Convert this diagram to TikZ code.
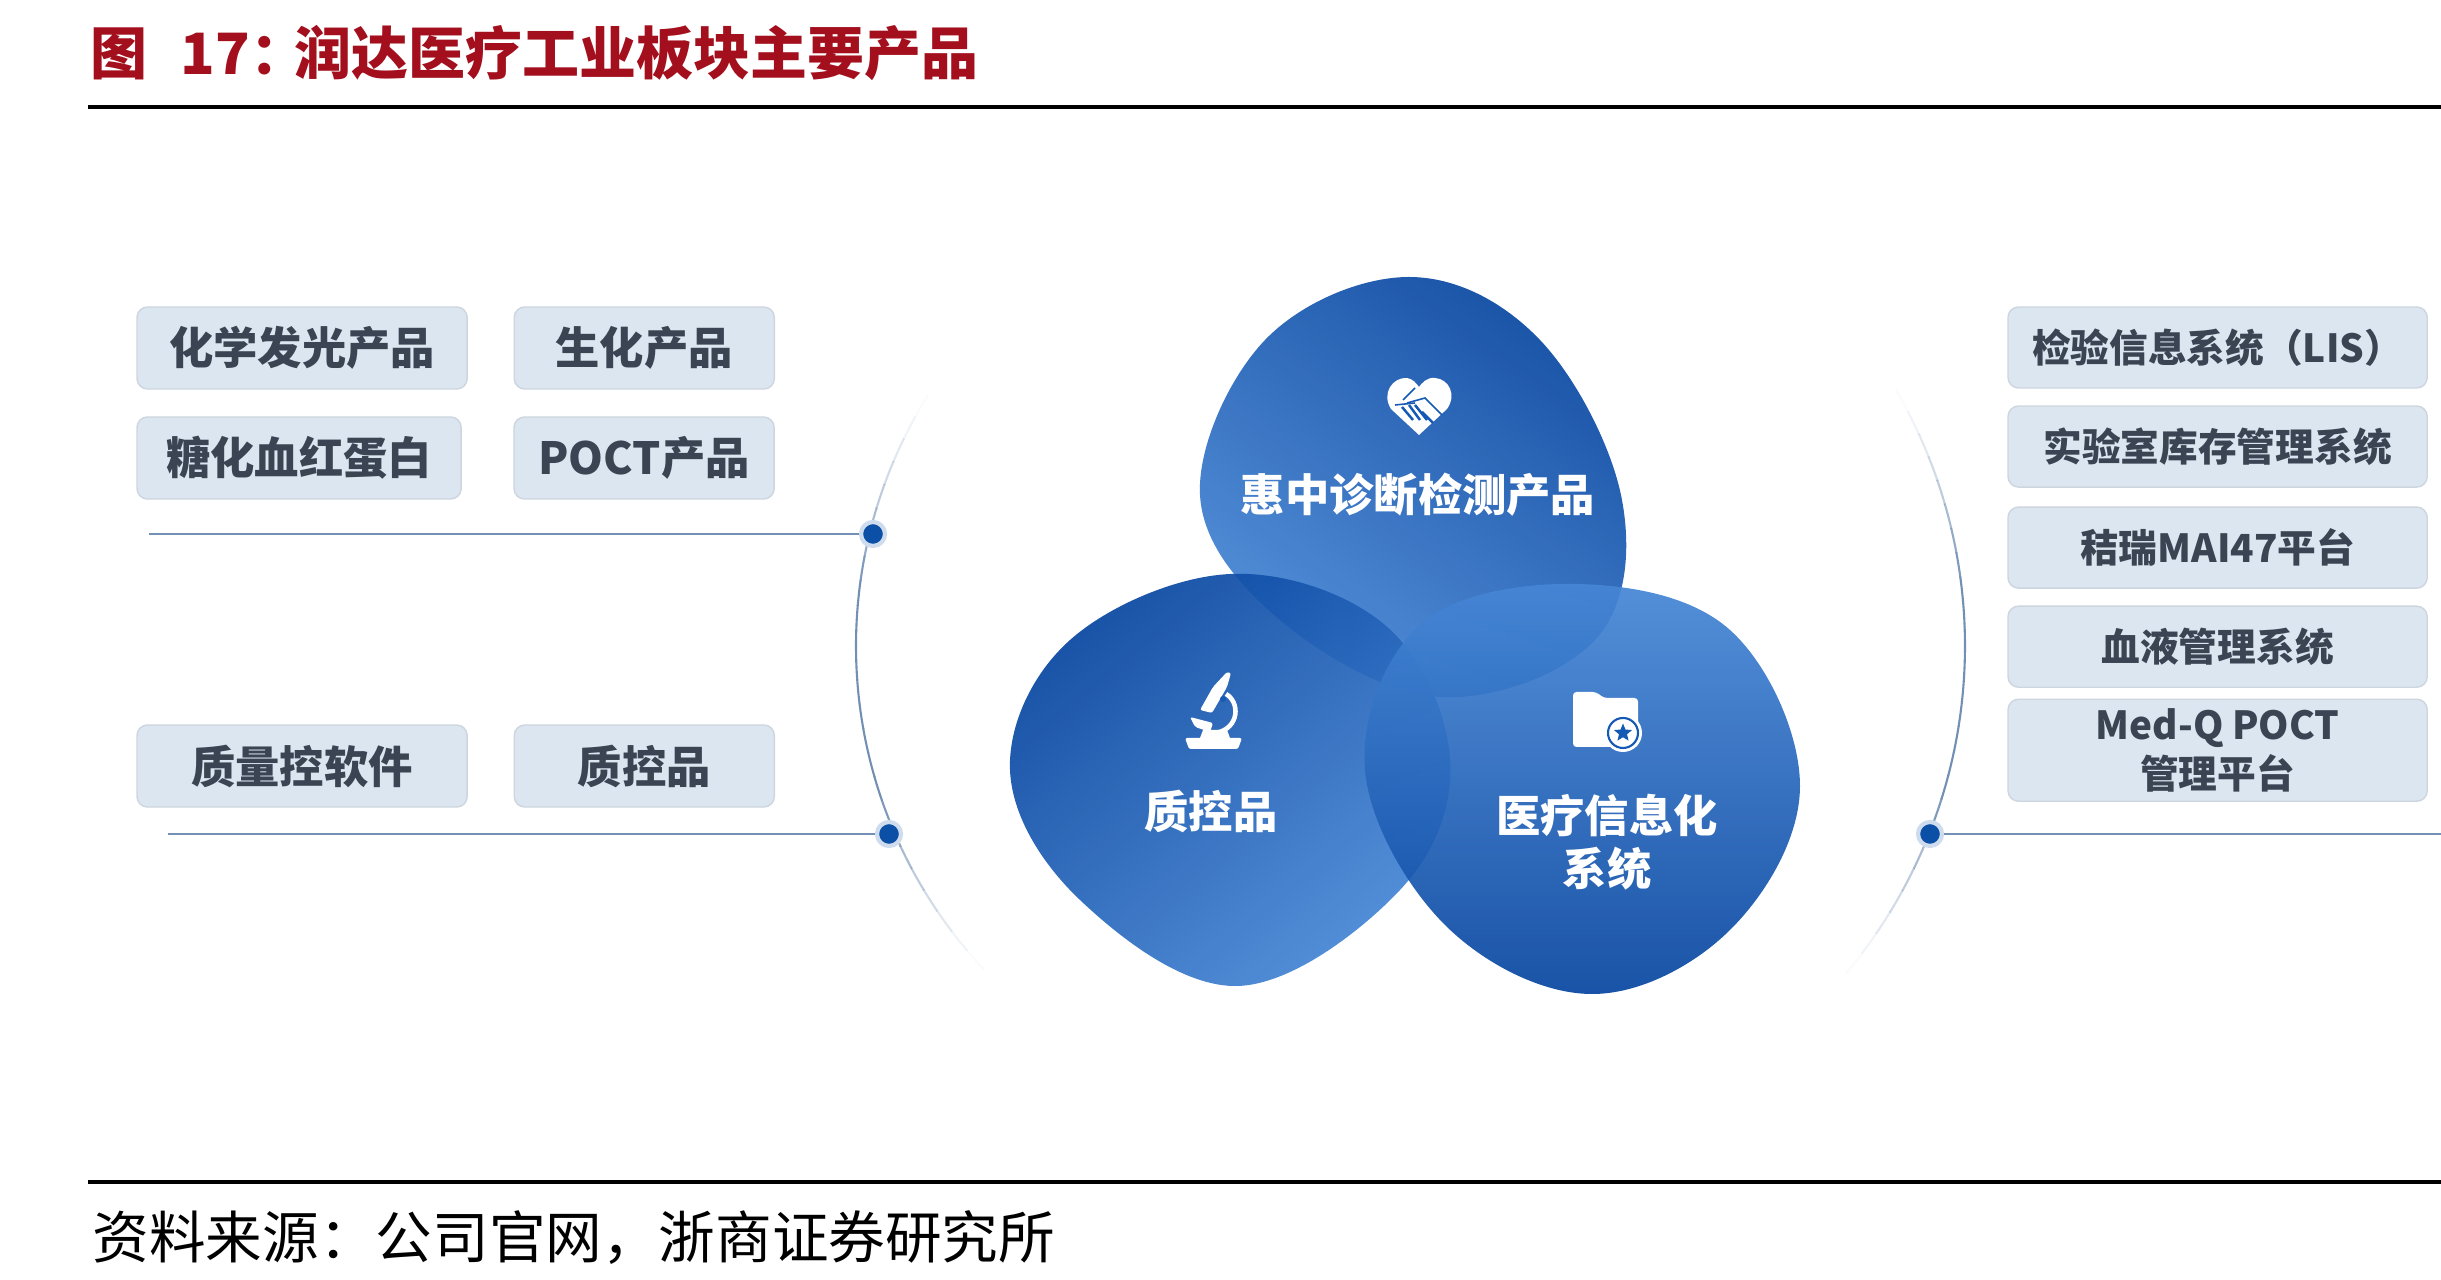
\documentclass[tikz,border=0pt]{standalone}
\usepackage{fontspec}
\setmainfont{Noto Sans CJK SC}
\usetikzlibrary{positioning,shapes.geometric}
\definecolor{boxfill}{HTML}{DCE6F1}
\definecolor{boxedge}{HTML}{CDD5DE}
\definecolor{boxtext}{HTML}{3A4452}
\definecolor{titlered}{HTML}{A30F1C}
\definecolor{blobdark}{HTML}{0846A0}
\definecolor{blobmid}{HTML}{145AB4}
\definecolor{bloblight}{HTML}{4787D6}
\definecolor{dotblue}{HTML}{0B50A6}
\definecolor{linkblue}{HTML}{7390B4}
\tikzset{
    %Define style for boxes
    kasten/.style={
           rectangle,
           rounded corners=3pt,
           draw=boxedge, fill=boxfill,
           text=boxtext,
           font=\bfseries\fontsize{12.6}{15}\selectfont,
           outer sep=0pt,
           inner sep=0pt,
           align=center,
           minimum width=3.3cm,
           minimum height=0.82cm},
    %Boxes of the right column
    rkasten/.style={
           kasten,
           font=\bfseries\fontsize{11}{14}\selectfont,
           minimum width=4.19cm,
           minimum height=0.81cm},
    %Labels in the blobs
    blobtext/.style={
           text=white,
           align=center,
           font=\bfseries\fontsize{12.6}{15}\selectfont},
    %Define dots on the arcs
    knoten/.style={
           circle,
           draw=dotblue!20, line width=1.2pt,
           fill=dotblue,
           inner sep=0pt,
           minimum size=0.24cm},
    % Define line style
    pil/.style={
           linkblue,
           line width=0.75pt},
    bogen/.style={
           linkblue,
           line width=0.6pt},
    blob/.style={
           top color=blobdark,
           middle color=blobmid,
           bottom color=bloblight,
           fill opacity=0.93},
    ico/.style={
           fill=white,
           draw=none},
    naht/.style={
           blobmid,
           line width=0.45pt}
}
\begin{document}
\begin{tikzpicture}[x=0.01cm,y=-0.01cm]
	\useasboundingbox (0,0) rectangle (2441,1280);
	% heading and source
	\node[anchor=west,inner sep=0pt,text=titlered,font=\bfseries\fontsize{16.2}{18}\selectfont] (title) at (90,53) {图\hspace{0.58em}17：\hspace{-0.22em}润达医疗工业板块主要产品};
	\coordinate (topa) at (88,107);
	\coordinate (topb) at (2441,107);
	\draw[line width=1.1pt] (topa) -- (topb);
	\coordinate (bota) at (88,1182);
	\coordinate (botb) at (2441,1182);
	\draw[line width=1.1pt] (bota) -- (botb);
	\node[anchor=west,inner sep=0pt,font=\fontsize{16.1}{19}\selectfont] (source) at (92,1238) {资料来源：公司官网，浙商证券研究所};
	% arcs, fading towards both ends
	\coordinate (lmid) at (1329,646);
	\coordinate (rmid) at (1455,646);
	\foreach \k in {0,...,26} {
		\pgfmathsetmacro\opa{min(1,1.3*sin(180*(\k+0.5)/27)^2)}
		\draw[bogen,opacity=\opa] (lmid) ++({215-3*\k}:473) arc[start angle={215-3*\k},delta angle=-3.1,radius=473];
		\draw[bogen,opacity=\opa] (rmid) ++({-33+2.8*\k}:510) arc[start angle={-33+2.8*\k},delta angle=2.9,radius=510];
	}
	% blobs
	\shade[blob,shading angle=-35] plot[smooth cycle,tension=0.62] coordinates {(1409,277) (1540,340) (1622,500) (1595,640) (1440,697) (1280,620) (1200,495) (1265,340)};
	\shade[blob,shading angle=40] plot[smooth cycle,tension=0.62] coordinates {(1010,770) (1070,640) (1230,574) (1385,625) (1450,760) (1400,890) (1238,986) (1080,900)};
	\shade[blob,top color=bloblight,middle color=blobmid,bottom color=blobdark] plot[smooth cycle,tension=0.62] coordinates {(1575,584) (1730,630) (1800,786) (1730,930) (1590,994) (1445,925) (1365,770) (1420,625)};
	% blob labels
	\node[blobtext] (hz) at (1418,495) {惠中诊断检测产品};
	\node[blobtext] (zk) at (1211,811) {质控品};
	\node[blobtext] (yl) at (1607,842) {医疗信息化\\系统};
	% icons
	\begin{scope}[shift={(1419,407)}]
		\fill[ico] (0,28) -- (-28,2) .. controls (-38,-14) and (-26,-30) .. (-12,-29) .. controls (-6,-28) and (-3,-24) .. (0,-20) .. controls (3,-24) and (8,-30) .. (16,-29) .. controls (30,-28) and (38,-12) .. (28,2) -- cycle;
		\draw[naht] (-16,-7) -- (-4,-19);
		\draw[naht] (-12,-4) -- (6,-9) -- (23,8);
		\draw[naht] (-24,-2) -- (-4,-4);
		\foreach \a/\b/\c/\d in {-17/0/-6/13,-10/-2/1/13,-4/-2/8/13,3/5/14/16} {
			\draw[naht,line width=0.7pt] (\a,\b) -- (\c,\d);
		}
	\end{scope}
	\fill[ico,rounded corners=0.6pt] (1185,738) -- (1242,738) -- (1238,749) -- (1189,749) -- cycle;
	\fill[ico,rounded corners=0.6pt] (1227,672) -- (1231,673) -- (1227,687) -- (1212,713) -- (1200,710) -- (1213,687) -- cycle;
	\draw[white,line width=1.3pt] (1226,694) .. controls (1240,702) and (1240,728) .. (1216,733);
	\fill[ico,rounded corners=0.6pt] (1190,717) -- (1213,723) -- (1210,732) -- (1195,727) -- cycle;
	\fill[ico] (1203,730) -- (1227,730) -- (1230,738) -- (1200,738) -- cycle;
	\fill[blobmid] (1223,699) circle[radius=3];
	\fill[ico,rounded corners=1pt] (1573,692) -- (1596,692) -- (1604,698) -- (1638,698) -- (1638,747) -- (1573,747) -- cycle;
	\fill[ico] (1623,733) circle[radius=19];
	\draw[blobmid,line width=0.6pt] (1623,733) circle[radius=15];
	\node[star,star points=5,star point ratio=2.25,fill=blobmid,inner sep=0pt,minimum size=0.19cm] (foldstar) at (1623,733) {};
	% left boxes
	\node[kasten,anchor=north west] (chem) at (137,307) {化学发光产品};
	\node[kasten,minimum width=2.6cm,right=0.47cm of chem] (bio) {生化产品};
	\node[kasten,minimum width=3.24cm,anchor=north west] (hba) at (137,417) {糖化血红蛋白};
	\node[kasten,minimum width=2.6cm,anchor=north west] (poct) at (514,417) {POCT产品};
	\node[kasten,anchor=north west] (soft) at (137,725) {质量控软件};
	\node[kasten,minimum width=2.6cm,right=0.47cm of soft] (qc) {质控品};
	% right boxes
	\node[rkasten,anchor=north west] (lis) at (2008,307) {检验信息系统（LIS）};
	\node[rkasten,below=0.18cm of lis] (lager) {实验室库存管理系统};
	\node[rkasten,below=0.2cm of lager] (mai) {秸瑞MAI47平台};
	\node[rkasten,below=0.18cm of mai] (blut) {血液管理系统};
	\node[rkasten,minimum height=1.02cm,below=0.12cm of blut] (medq) {Med-Q POCT\\管理平台};
	% dots and lines
	\node[knoten] (dota) at (873,534) {};
	\node[knoten] (dotb) at (889,834) {};
	\node[knoten] (dotc) at (1930,834) {};
	\coordinate (enda) at (149,534);
	\coordinate (endb) at (168,834);
	\coordinate (endc) at (2441,834);
	\draw[pil] (enda) -- (dota);
	\draw[pil] (endb) -- (dotb);
	\draw[pil] (dotc) -- (endc);
\end{tikzpicture}
\end{document}
